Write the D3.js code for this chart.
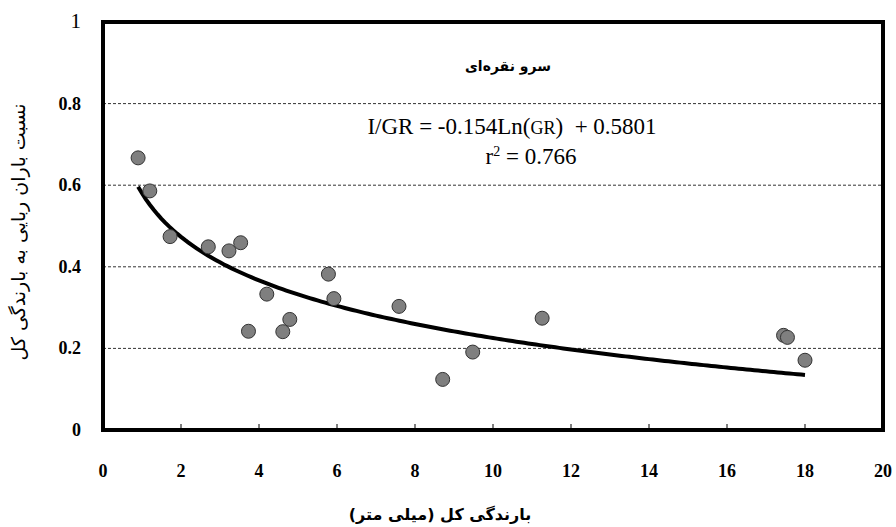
<!DOCTYPE html>
<html>
<head>
<meta charset="utf-8">
<script src="https://cdn.jsdelivr.net/npm/d3@7"></script>
<style>
  body { margin: 0; background: #fff; }
  svg { display: block; }
  .tick-num { font-family: "Liberation Serif", serif; font-weight: bold; font-size: 18px; fill: #000; }
  .fa { font-family: "DejaVu Sans", sans-serif; font-weight: bold; fill: #000; }
  .eq { font-family: "Liberation Serif", serif; font-size: 23px; fill: #000; }
</style>
</head>
<body>
<svg width="896" height="527"></svg>
<script>
// Data
const rainfall = [0.9, 1.2, 1.72, 2.7, 3.23, 3.53, 5.78, 4.2, 5.92, 7.59, 4.79, 3.73, 4.61, 11.26, 9.48, 8.71, 17.45, 17.55, 18.0];
const ratio = [0.667, 0.586, 0.474, 0.449, 0.439, 0.459, 0.382, 0.333, 0.322, 0.303, 0.271, 0.242, 0.241, 0.274, 0.191, 0.124, 0.232, 0.227, 0.171];
const xTicks = [0, 2, 4, 6, 8, 10, 12, 14, 16, 18, 20];
const yTicks = [0, 0.2, 0.4, 0.6, 0.8, 1];
const fitA = -0.154, fitB = 0.5801;
const fitRange = [0.9, 18];

const svg = d3.select("svg");
const margin = { left: 103, right: 13, top: 22, bottom: 97 };
const width = 896, height = 527;

const x = d3.scaleLinear().domain([0, 20]).range([margin.left, width - margin.right]);
const y = d3.scaleLinear().domain([0, 1]).range([height - margin.bottom, margin.top]);

// gridlines
svg.append("g")
  .selectAll("line")
  .data(yTicks.filter(d => d > 0 && d < 1))
  .enter().append("line")
  .attr("x1", x(0)).attr("x2", x(20))
  .attr("y1", d => y(d)).attr("y2", d => y(d))
  .attr("stroke", "#333")
  .attr("stroke-width", 1)
  .attr("stroke-dasharray", "3,2");

// x ticks inside
svg.append("g")
  .selectAll("line")
  .data(xTicks.filter(d => d > 0 && d < 20))
  .enter().append("line")
  .attr("x1", d => x(d)).attr("x2", d => x(d))
  .attr("y1", y(0)).attr("y2", y(0) - 6)
  .attr("stroke", "#000")
  .attr("stroke-width", 1);

// x tick labels
svg.append("g")
  .selectAll("text")
  .data(xTicks)
  .enter().append("text")
  .attr("class", "tick-num")
  .attr("x", d => x(d))
  .attr("y", 477)
  .attr("text-anchor", "middle")
  .text(d => d);

// y tick labels
svg.append("g")
  .selectAll("text")
  .data(yTicks)
  .enter().append("text")
  .attr("class", "tick-num")
  .attr("x", 81)
  .attr("y", d => y(d) + 6)
  .attr("text-anchor", "end")
  .style("font-weight", d => d === 1 ? "normal" : "bold")
  .style("font-size", d => d === 1 ? "21px" : "18px")
  .text(d => d);

// fitted curve
const curvePts = d3.range(fitRange[0], fitRange[1] + 0.001, 0.1).map(v => [v, fitA * Math.log(v) + fitB]);
svg.append("path")
  .datum(curvePts)
  .attr("fill", "none")
  .attr("stroke", "#000")
  .attr("stroke-width", 4)
  .attr("d", d3.line().x(d => x(d[0])).y(d => y(d[1])));

// points
svg.append("g")
  .selectAll("circle")
  .data(rainfall.map((v, i) => [v, ratio[i]]))
  .enter().append("circle")
  .attr("cx", d => x(d[0]))
  .attr("cy", d => y(d[1]))
  .attr("r", 7)
  .attr("fill", "#7f7f7f")
  .attr("stroke", "#333")
  .attr("stroke-width", 1);

// frame
svg.append("rect")
  .attr("x", x(0)).attr("y", y(1))
  .attr("width", x(20) - x(0)).attr("height", y(0) - y(1))
  .attr("fill", "none")
  .attr("stroke", "#000")
  .attr("stroke-width", 4);

// inner title + equation
svg.append("text").attr("class", "fa")
  .attr("x", 508).attr("y", 71)
  .attr("text-anchor", "middle")
  .style("font-size", "14px")
  .text("سرو نقره‌ای");

const eq = svg.append("text").attr("class", "eq")
  .attr("x", 512).attr("y", 134)
  .attr("text-anchor", "middle")
  .attr("xml:space", "preserve")
  .style("white-space", "pre");
eq.append("tspan").text("I/GR = -0.154Ln(");
eq.append("tspan").style("font-size", "18px").text("GR");
eq.append("tspan").text(")  + 0.5801");

const r2 = svg.append("text").attr("class", "eq")
  .attr("x", 531).attr("y", 164)
  .attr("text-anchor", "middle");
r2.append("tspan").text("r");
r2.append("tspan").attr("dy", -8).style("font-size", "14px").text("2");
r2.append("tspan").attr("dy", 8).text(" = 0.766");

// axis titles
svg.append("text").attr("class", "fa")
  .attr("x", 440).attr("y", 520)
  .attr("text-anchor", "middle")
  .style("font-size", "16px")
  .text("بارندگی کل (میلی متر)");

svg.append("text").attr("class", "fa")
  .attr("transform", "translate(25,232) rotate(-90)")
  .attr("text-anchor", "middle")
  .style("font-size", "19px")
  .style("font-weight", "normal")
  .text("نسبت باران ربایی به بارندگی کل");
</script>
</body>
</html>
